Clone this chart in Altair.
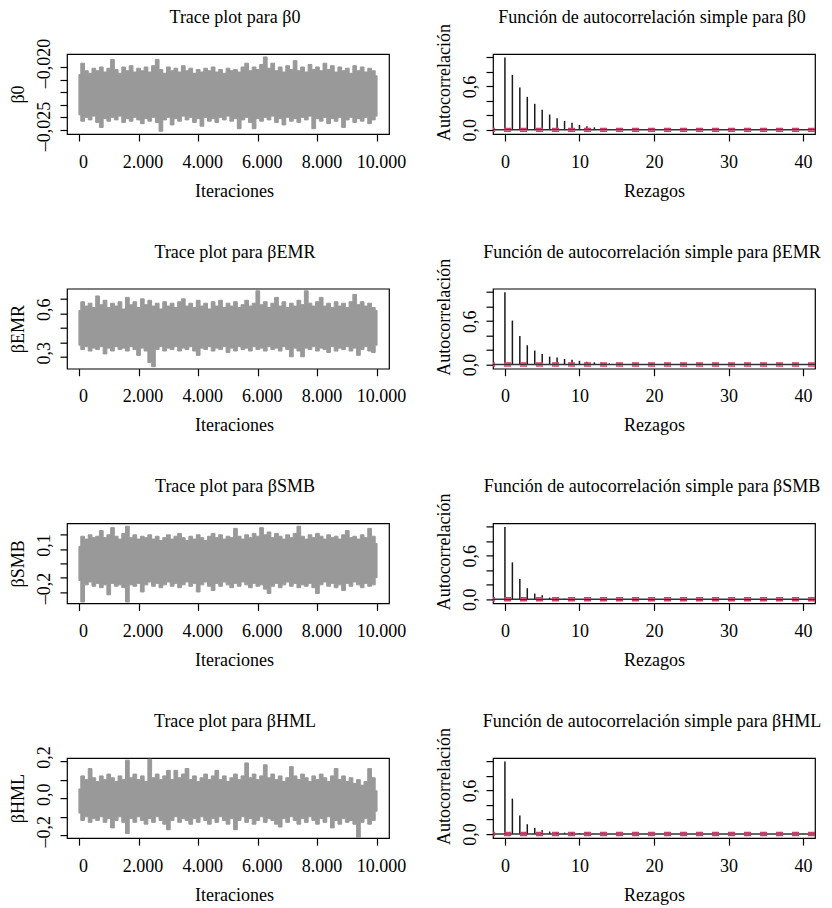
import altair as alt
import pandas as pd

FONT = "Liberation Serif"
GRAY = "#999999"
RED = "#DB3B66"

# iteration grid for the envelope of the trace (every 125 iterations)
iterations = list(range(0, 10001, 125))
x_trace_ticks = [0, 2000, 4000, 6000, 8000, 10000]

b0_hi = [-0.0206, -0.0197, -0.0203, -0.0205, -0.0201, -0.0203, -0.0200, -0.0204, -0.0201, -0.0194,
         -0.0202, -0.0205, -0.0200, -0.0203, -0.0199, -0.0204, -0.0201, -0.0203, -0.0200, -0.0204,
         -0.0199, -0.0194, -0.0202, -0.0205, -0.0200, -0.0203, -0.0201, -0.0204, -0.0199, -0.0203,
         -0.0201, -0.0205, -0.0202, -0.0204, -0.0201, -0.0203, -0.0200, -0.0204, -0.0202, -0.0205,
         -0.0201, -0.0203, -0.0202, -0.0204, -0.0200, -0.0197, -0.0203, -0.0200, -0.0202, -0.0198,
         -0.0192, -0.0201, -0.0197, -0.0203, -0.0200, -0.0204, -0.0199, -0.0202, -0.0195, -0.0203,
         -0.0200, -0.0204, -0.0198, -0.0202, -0.0200, -0.0203, -0.0197, -0.0202, -0.0199, -0.0204,
         -0.0200, -0.0203, -0.0201, -0.0205, -0.0199, -0.0203, -0.0200, -0.0204, -0.0201, -0.0203,
         -0.0207]
b0_lo = [-0.0238, -0.0243, -0.0240, -0.0242, -0.0239, -0.0244, -0.0248, -0.0241, -0.0243, -0.0240,
         -0.0242, -0.0239, -0.0244, -0.0241, -0.0243, -0.0240, -0.0242, -0.0245, -0.0241, -0.0243,
         -0.0240, -0.0244, -0.0251, -0.0242, -0.0240, -0.0246, -0.0241, -0.0243, -0.0239, -0.0242,
         -0.0240, -0.0244, -0.0241, -0.0247, -0.0240, -0.0243, -0.0241, -0.0244, -0.0240, -0.0242,
         -0.0239, -0.0243, -0.0241, -0.0249, -0.0242, -0.0240, -0.0244, -0.0249, -0.0241, -0.0243,
         -0.0240, -0.0242, -0.0239, -0.0244, -0.0241, -0.0246, -0.0240, -0.0243, -0.0241, -0.0244,
         -0.0240, -0.0242, -0.0239, -0.0249, -0.0241, -0.0243, -0.0240, -0.0245, -0.0241, -0.0243,
         -0.0240, -0.0248, -0.0242, -0.0240, -0.0244, -0.0241, -0.0243, -0.0240, -0.0245, -0.0242,
         -0.0239]

emr_hi = [0.62, 0.68, 0.65, 0.67, 0.64, 0.72, 0.66, 0.69, 0.64, 0.67,
          0.65, 0.68, 0.63, 0.71, 0.66, 0.68, 0.64, 0.70, 0.66, 0.69,
          0.65, 0.67, 0.63, 0.68, 0.65, 0.67, 0.64, 0.68, 0.70, 0.65,
          0.67, 0.64, 0.69, 0.65, 0.67, 0.63, 0.68, 0.65, 0.69, 0.64,
          0.67, 0.65, 0.68, 0.64, 0.66, 0.69, 0.65, 0.67, 0.755, 0.66,
          0.68, 0.64, 0.67, 0.71, 0.65, 0.68, 0.64, 0.67, 0.65, 0.69,
          0.66, 0.755, 0.67, 0.65, 0.68, 0.71, 0.65, 0.67, 0.64, 0.68,
          0.65, 0.67, 0.64, 0.68, 0.73, 0.66, 0.68, 0.65, 0.67, 0.64,
          0.62]
emr_lo = [0.38, 0.35, 0.37, 0.34, 0.36, 0.35, 0.37, 0.32, 0.36, 0.34,
          0.37, 0.35, 0.36, 0.34, 0.37, 0.35, 0.31, 0.36, 0.34, 0.26,
          0.232, 0.35, 0.37, 0.34, 0.36, 0.35, 0.37, 0.34, 0.36, 0.35,
          0.37, 0.34, 0.31, 0.36, 0.35, 0.37, 0.34, 0.36, 0.35, 0.37,
          0.33, 0.36, 0.34, 0.37, 0.35, 0.36, 0.34, 0.37, 0.35, 0.36,
          0.34, 0.37, 0.35, 0.36, 0.34, 0.37, 0.35, 0.30, 0.36, 0.34,
          0.30, 0.36, 0.35, 0.37, 0.34, 0.36, 0.35, 0.33, 0.37, 0.34,
          0.36, 0.35, 0.37, 0.34, 0.36, 0.31, 0.35, 0.37, 0.34, 0.33,
          0.38]

smb_hi = [0.12, 0.19, 0.17, 0.20, 0.18, 0.19, 0.23, 0.18, 0.20, 0.25,
          0.19, 0.17, 0.21, 0.26, 0.18, 0.20, 0.17, 0.19, 0.18, 0.20,
          0.17, 0.19, 0.16, 0.18, 0.20, 0.17, 0.19, 0.21, 0.18, 0.16,
          0.19, 0.17, 0.20, 0.18, 0.16, 0.19, 0.21, 0.18, 0.20, 0.17,
          0.19, 0.18, 0.245, 0.19, 0.17, 0.20, 0.18, 0.21, 0.19, 0.25,
          0.20, 0.22, 0.18, 0.21, 0.19, 0.17, 0.20, 0.18, 0.21, 0.26,
          0.19, 0.17, 0.20, 0.18, 0.21, 0.19, 0.17, 0.20, 0.18, 0.19,
          0.17, 0.20, 0.23, 0.18, 0.19, 0.17, 0.20, 0.18, 0.245, 0.19,
          0.14]
smb_lo = [-0.12, -0.27, -0.15, -0.13, -0.16, -0.14, -0.17, -0.15, -0.22, -0.14,
          -0.16, -0.15, -0.17, -0.27, -0.15, -0.16, -0.14, -0.20, -0.15, -0.13,
          -0.16, -0.14, -0.17, -0.15, -0.13, -0.16, -0.14, -0.17, -0.15, -0.13,
          -0.16, -0.14, -0.20, -0.15, -0.13, -0.16, -0.19, -0.14, -0.16, -0.13,
          -0.15, -0.17, -0.14, -0.16, -0.13, -0.15, -0.17, -0.14, -0.16, -0.15,
          -0.18, -0.21, -0.16, -0.14, -0.17, -0.15, -0.13, -0.16, -0.14, -0.17,
          -0.15, -0.16, -0.14, -0.17, -0.21, -0.15, -0.13, -0.16, -0.14, -0.17,
          -0.15, -0.19, -0.14, -0.16, -0.13, -0.15, -0.17, -0.14, -0.16, -0.15,
          -0.10]

hml_hi = [0.05, 0.12, 0.10, 0.16, 0.11, 0.09, 0.12, 0.10, 0.13, 0.11,
          0.09, 0.12, 0.10, 0.205, 0.11, 0.13, 0.10, 0.12, 0.09, 0.21,
          0.11, 0.13, 0.10, 0.12, 0.15, 0.10, 0.15, 0.11, 0.13, 0.16,
          0.10, 0.12, 0.09, 0.11, 0.13, 0.10, 0.12, 0.15, 0.10, 0.12,
          0.09, 0.11, 0.13, 0.10, 0.12, 0.19, 0.11, 0.13, 0.10, 0.12,
          0.18, 0.11, 0.13, 0.10, 0.12, 0.09, 0.11, 0.17, 0.12, 0.10,
          0.13, 0.11, 0.09, 0.12, 0.10, 0.13, 0.11, 0.09, 0.12, 0.16,
          0.10, 0.12, 0.09, 0.11, 0.08, 0.10, 0.07, 0.09, 0.16, 0.11,
          0.04]
hml_lo = [-0.08, -0.12, -0.10, -0.13, -0.11, -0.12, -0.10, -0.13, -0.11, -0.16,
          -0.12, -0.10, -0.13, -0.19, -0.11, -0.13, -0.10, -0.12, -0.14, -0.11,
          -0.13, -0.10, -0.12, -0.14, -0.17, -0.12, -0.10, -0.13, -0.11, -0.12,
          -0.14, -0.11, -0.13, -0.10, -0.12, -0.14, -0.11, -0.13, -0.10, -0.12,
          -0.14, -0.11, -0.17, -0.12, -0.10, -0.13, -0.11, -0.14, -0.12, -0.10,
          -0.13, -0.11, -0.12, -0.14, -0.155, -0.11, -0.13, -0.10, -0.12, -0.14,
          -0.11, -0.13, -0.10, -0.12, -0.14, -0.11, -0.13, -0.10, -0.16, -0.12,
          -0.14, -0.11, -0.13, -0.12, -0.14, -0.22, -0.13, -0.11, -0.14, -0.12,
          -0.07]

lags = list(range(41))
acf_b0 = [1.0, 0.76, 0.585, 0.456, 0.36, 0.277, 0.212, 0.161, 0.124, 0.097,
          0.069, 0.051, 0.035, 0.022, 0.013, 0.008, 0.005, 0.004, 0.006, 0.003,
          0.002, 0.004, 0.003, 0.001, 0.002, 0.003, 0.001, -0.002, 0.001, 0.002,
          -0.001, 0.001, 0.002, -0.002, 0.001, -0.001, 0.002, 0.001, -0.002, 0.001,
          0.002]
acf_emr = [1.0, 0.608, 0.396, 0.267, 0.194, 0.147, 0.110, 0.097, 0.078, 0.065,
           0.052, 0.040, 0.031, 0.024, 0.016, 0.010, 0.007, 0.005, 0.004, 0.003,
           0.002, 0.004, 0.002, 0.001, 0.003, 0.002, -0.001, 0.001, 0.002, -0.002,
           0.001, 0.002, -0.001, 0.001, 0.002, 0.001, -0.002, 0.001, 0.002, -0.001,
           0.001]
acf_smb = [1.0, 0.51, 0.279, 0.153, 0.079, 0.056, 0.023, 0.012, 0.008, 0.005,
           0.004, 0.003, 0.002, 0.004, 0.001, -0.002, 0.002, 0.001, -0.001, 0.002,
           0.001, -0.002, 0.001, 0.002, -0.001, 0.001, 0.002, -0.001, 0.001, -0.002,
           0.002, 0.001, -0.001, 0.002, 0.001, -0.002, 0.001, 0.002, -0.001, 0.001,
           0.002]
acf_hml = [1.0, 0.488, 0.256, 0.135, 0.084, 0.051, 0.033, 0.023, 0.019, 0.015,
           0.010, 0.007, 0.005, 0.004, 0.003, -0.002, 0.002, 0.001, -0.001, 0.002,
           0.001, -0.002, 0.001, 0.002, -0.001, 0.001, 0.002, -0.001, 0.001, -0.002,
           0.002, 0.001, -0.001, 0.002, 0.001, -0.002, 0.001, 0.002, -0.001, 0.001,
           0.002]
ci_bounds = [0.02, -0.02]

PANEL_W = 322
PANEL_H = 80


def label_expr(shown, decimals):
    conds = " || ".join(f"abs(datum.value - ({v})) < 1e-9" for v in shown)
    txt = (f"replace(replace(format(abs(datum.value), '.{decimals}f'), '.', ','), '', "
           f"datum.value < 0 ? '–' : '')")
    txt = (f"(datum.value < 0 ? '–' : '') + "
           f"replace(format(abs(datum.value), '.{decimals}f'), '.', ',')")
    return f"({conds}) ? {txt} : ''"


def title_text(text, dx):
    return (
        alt.Chart(pd.DataFrame({"t": [text]}))
        .mark_text(font=FONT, fontSize=18, baseline="alphabetic", align="center", color="black")
        .encode(text="t:N", x=alt.value(PANEL_W / 2 + dx), y=alt.value(-31))
    )


def trace_panel(name, lo, hi, domain, ticks, shown, decimals):
    df = pd.DataFrame({"it": iterations, "lo": lo, "hi": hi})
    x = alt.X("it:Q", scale=alt.Scale(domain=[-400, 10400], nice=False, zero=False),
              axis=alt.Axis(values=x_trace_ticks, title="Iteraciones",
                            labelExpr="replace(format(datum.value, ','), ',', '.')",
                            labelOffset=4, titleX=167))
    y = alt.Y("lo:Q", scale=alt.Scale(domain=domain, nice=False, zero=False),
              axis=alt.Axis(values=ticks, title=name, labelExpr=label_expr(shown, decimals),
                            labelOffset=-4))
    band = (
        alt.Chart(df)
        .mark_area(color=GRAY, stroke=GRAY, strokeWidth=1, interpolate="step", opacity=1, clip=True)
        .encode(x=x, y=y, y2="hi:Q")
    )
    return alt.layer(band, title_text(f"Trace plot para {name}", 7)).properties(
        width=PANEL_W, height=PANEL_H)


def acf_panel(name, vals):
    df = pd.DataFrame({"lag": lags, "acf": vals, "zero": [0.0] * len(lags)})
    x = alt.X("lag:Q", scale=alt.Scale(domain=[-1.6, 41.6], nice=False, zero=False),
              axis=alt.Axis(values=[0, 10, 20, 30, 40], title="Rezagos", format="d"))
    y = alt.Y("acf:Q", scale=alt.Scale(domain=[-0.057, 1.048], nice=False, zero=False),
              axis=alt.Axis(values=[0, 0.2, 0.4, 0.6, 0.8, 1.0], title="Autocorrelación",
                            labelExpr=label_expr([0, 0.6], 1), titleY=28))
    bars = alt.Chart(df).mark_rule(color="#1a1a1a", strokeWidth=1.5).encode(x=x, y=y, y2="zero:Q")
    zero_line = alt.Chart(pd.DataFrame({"acf": [0.0]})).mark_rule(color="#333333", strokeWidth=1.5).encode(y=y)
    ci = alt.Chart(pd.DataFrame({"acf": ci_bounds})).mark_rule(
        color=RED, strokeWidth=1.6, strokeDash=[7, 9]).encode(y=y)
    return alt.layer(bars, zero_line, ci,
                     title_text(f"Función de autocorrelación simple para {name}", -2)).properties(
        width=PANEL_W, height=PANEL_H)


rows = [
    alt.hconcat(
        trace_panel("β0", b0_lo, b0_hi, [-0.02532, -0.01897],
                    [-0.025, -0.024, -0.023, -0.022, -0.021, -0.020], [-0.025, -0.020], 3),
        acf_panel("β0", acf_b0), spacing=104, bounds="flush"),
    alt.hconcat(
        trace_panel("βEMR", emr_lo, emr_hi, [0.218, 0.770],
                    [0.3, 0.4, 0.5, 0.6, 0.7], [0.3, 0.6], 1),
        acf_panel("βEMR", acf_emr), spacing=104, bounds="flush"),
    alt.hconcat(
        trace_panel("βSMB", smb_lo, smb_hi, [-0.280, 0.280],
                    [-0.2, -0.1, 0.0, 0.1, 0.2], [-0.2, 0.1], 1),
        acf_panel("βSMB", acf_smb), spacing=104, bounds="flush"),
    alt.hconcat(
        trace_panel("βHML", hml_lo, hml_hi, [-0.215, 0.216],
                    [-0.2, -0.1, 0.0, 0.1, 0.2], [-0.2, 0.0, 0.2], 1),
        acf_panel("βHML", acf_hml), spacing=104, bounds="flush"),
]

chart = (
    alt.vconcat(*rows, spacing=234.7, bounds="flush")
    .properties(padding=0, background="white")
    .configure_view(stroke="black", strokeWidth=1.2)
    .configure_axis(domain=False, grid=False, ticks=True, tickColor="black", tickSize=7, tickWidth=1.2,
                    labelFont=FONT, labelFontSize=18, labelColor="black",
                    titleFont=FONT, titleFontSize=18, titleFontWeight="normal", titleColor="black",
                    labelFlush=False, labelOverlap=False)
    .configure_axisX(labelPadding=12, titlePadding=11)
    .configure_axisY(labelAngle=270, labelAlign="center", labelBaseline="bottom",
                     labelPadding=7, titlePadding=8)
)

chart.save("out.html", embed_options={"renderer": "svg", "actions": False})
